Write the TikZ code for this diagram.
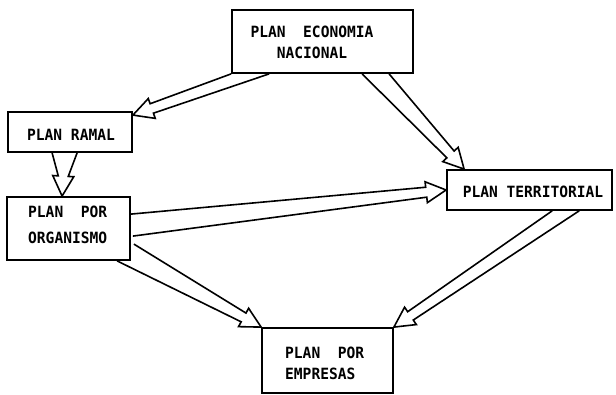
\documentclass[tikz,border=0pt]{standalone}
\usepackage{fontspec}
\newfontfamily\twfont[FakeStretch=0.94]{DejaVu Sans Mono}
\usetikzlibrary{calc,backgrounds}
\tikzset{
  planbox/.style={draw, line width=1.8pt, fill=white, inner sep=0pt},
  plantext/.style={font=\twfont\bfseries\fontsize{15.5}{21}\selectfont, inner sep=0pt},
  arrline/.style={draw, line width=1.6pt, line join=miter}
}
\newcommand{\barr}[3]{%
  \path (#1) coordinate (bas1) (#2) coordinate (bas2) (#3) coordinate (bat);
  \path ($(bas1)!0.5!(bas2)$) coordinate (bam);
  \path ($(bat)!20pt!(bam)$) coordinate (bah);
  \draw[arrline] (bas1) -- ($(bah)!5pt!90:(bat)$) -- ($(bah)!10.5pt!90:(bat)$) -- (bat)
     -- ($(bah)!10.5pt!-90:(bat)$) -- ($(bah)!5pt!-90:(bat)$) -- (bas2);
}
\begin{document}
\begin{tikzpicture}[x=1pt,y=-1pt]
\useasboundingbox (0,0) rectangle (616,395);
% boxes
\node[planbox, minimum width=181pt, minimum height=63pt] (eco) at (322.5,41.5) {};
\node[planbox, minimum width=124pt, minimum height=40pt] (ramal) at (70,132) {};
\node[planbox, minimum width=123pt, minimum height=63pt] (org) at (68.5,228.5) {};
\node[planbox, minimum width=165pt, minimum height=40pt] (terr) at (529.5,190) {};
\node[planbox, minimum width=131pt, minimum height=65pt] (emp) at (327.5,360.5) {};
% texts
\node[plantext, align=center] (ecoT) at (312,42.5) {PLAN\ \ ECONOMIA\\NACIONAL};
\node[plantext] (ramalT) at (71,135) {PLAN RAMAL};
\node[plantext, align=left, anchor=west, font=\twfont\bfseries\fontsize{15.5}{26}\selectfont] (orgT) at (28,225) {PLAN\ \ POR\\ORGANISMO};
\node[plantext] (terrT) at (533,192) {PLAN TERRITORIAL};
\node[plantext, align=left, anchor=west] (empT) at (285,363.5) {PLAN\ \ POR\\EMPRESAS};
% arrows
\begin{pgfonlayer}{background}
\barr{$(eco.south west)+(38,0)$}{eco.south west}{$(ramal.north east)+(0,4)$}
\barr{$(eco.south west)+(158,0)$}{$(eco.south west)+(131,0)$}{$(terr.north west)+(18,0)$}
\barr{$(ramal.south west)+(70,0)$}{$(ramal.south west)+(45,0)$}{$(org.north west)+(56,0)$}
\barr{$(org.north east)+(0,18)$}{$(org.north east)+(2,40)$}{terr.west}
\barr{$(org.north east)+(3,48)$}{$(org.south west)+(111,0)$}{emp.north west}
\barr{$(terr.south west)+(133,0)$}{$(terr.south west)+(106,0)$}{emp.north east}
\end{pgfonlayer}
\end{tikzpicture}
\end{document}
